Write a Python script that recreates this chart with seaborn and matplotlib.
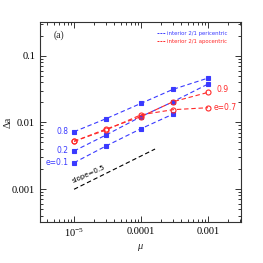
import matplotlib
matplotlib.use("Agg")
import matplotlib.pyplot as plt
import seaborn as sns
import numpy as np
import pandas as pd
from matplotlib.lines import Line2D
from matplotlib.ticker import LogLocator, NullFormatter, FixedLocator, FixedFormatter

mu = [1e-5, 3e-5, 1e-4, 3e-4, 1e-3]
peri_e08 = [0.00724, 0.01135, 0.0193, 0.0313, 0.0462]
peri_e02 = [0.00372, 0.00646, 0.0122, 0.0204, 0.0376]
peri_e01 = [0.00248, 0.00442, 0.00804, 0.0133]
apo_e09 = [0.00519, 0.00794, 0.0122, 0.0204, 0.0282]
apo_e07 = [0.0052, 0.00767, 0.0130, 0.0155, 0.0166]
slope_x = [1e-5, 1.62e-4]
slope_y = [0.00099, 0.00398]

xticks = [1e-5, 1e-4, 1e-3]
xtick_labels = [r"$10^{-5}$", "0.0001", "0.001"]
yticks = [0.001, 0.01, 0.1]
ytick_labels = ["0.001", "0.01", "0.1"]

sns.set_style("ticks")
plt.rcParams['font.family'] = ['DejaVu Sans']
plt.rcParams['mathtext.fontset'] = 'custom'
plt.rcParams['mathtext.rm'] = 'Liberation Serif'
plt.rcParams['mathtext.it'] = 'Liberation Serif:italic'
blue = "#3a3aff"
red = "#ff2a2a"

fig = plt.figure(figsize=(2.63, 2.63), dpi=100)
ax = fig.add_axes([0.152, 0.156, 0.764, 0.760])

def draw(xs, ys, color, marker, mfc, ms):
    sns.lineplot(x=xs, y=ys, ax=ax, color=color, linestyle=(0, (4, 2.5)), linewidth=0.8,
                 marker=marker, markersize=ms, markerfacecolor=mfc, markeredgecolor=color,
                 markeredgewidth=0.8, legend=False)

draw(mu, peri_e08, blue, 's', blue, 2.8)
draw(mu, peri_e02, blue, 's', blue, 2.8)
draw(mu[:4], peri_e01, blue, 's', blue, 2.8)
draw(mu, apo_e09, red, 'o', 'none', 3.6)
draw(mu, apo_e07, red, 'o', 'none', 3.6)
sns.lineplot(x=slope_x, y=slope_y, ax=ax, color="black", linestyle=(0, (4, 2.5)), linewidth=0.8, legend=False)

ax.set_xscale('log')
ax.set_yscale('log')
ax.set_xlim(3.1e-6, 3.1e-3)
ax.set_ylim(3.2e-4, 0.32)

serif = ['Liberation Serif', 'DejaVu Serif']
ax.xaxis.set_major_locator(FixedLocator(xticks))
ax.xaxis.set_major_formatter(FixedFormatter(xtick_labels))
ax.yaxis.set_major_locator(FixedLocator(yticks))
ax.yaxis.set_major_formatter(FixedFormatter(ytick_labels))
ax.xaxis.set_minor_locator(LogLocator(base=10, subs=np.arange(2, 10), numticks=20))
ax.yaxis.set_minor_locator(LogLocator(base=10, subs=np.arange(2, 10), numticks=20))
ax.xaxis.set_minor_formatter(NullFormatter())
ax.yaxis.set_minor_formatter(NullFormatter())
ax.tick_params(which='both', direction='in', top=True, right=True, width=0.7, colors='#333333')
ax.tick_params(which='major', length=4, labelsize=7.5, labelcolor='black')
ax.tick_params(which='minor', length=2)
for lab in ax.get_xticklabels() + ax.get_yticklabels():
    lab.set_family(serif)
for s in ax.spines.values():
    s.set_linewidth(0.8)
    s.set_color('#333333')

ax.set_xlabel(r"$\mu$", fontsize=7.5, labelpad=2)
ax.set_ylabel("Δa", fontsize=7.5, family=serif)
ax.yaxis.set_label_coords(-0.135, 0.5)

ax.text(0.07, 0.935, "(a)", transform=ax.transAxes, fontsize=7, family=serif, va='center')

lab_fs = 5.5
ax.text(8.4e-6, peri_e08[0], "0.8", color=blue, fontsize=lab_fs, ha='right', va='center')
ax.text(8.4e-6, peri_e02[0], "0.2", color=blue, fontsize=lab_fs, ha='right', va='center')
ax.text(8.4e-6, peri_e01[0], "e=0.1", color=blue, fontsize=lab_fs, ha='right', va='center')
ax.text(1.35e-3, 0.0307, "0.9", color=red, fontsize=lab_fs, ha='left', va='center')
ax.text(1.2e-3, 0.0170, "e=0.7", color=red, fontsize=lab_fs, ha='left', va='center')
ax.text(1.0e-5, 0.00118, "slope=0.5", color='black', fontsize=5, ha='left', va='bottom',
        rotation=24, rotation_mode='anchor')

handles = [Line2D([], [], color=blue, linestyle=(0, (2, 1)), linewidth=0.7),
           Line2D([], [], color=red, linestyle=(0, (2, 1)), linewidth=0.7)]
leg = ax.legend(handles, ["interior 2/1 pericentric", "interior 2/1 apocentric"],
                loc='upper right', bbox_to_anchor=(0.935, 0.955), frameon=False, fontsize=3.9,
                handlelength=1.5, handletextpad=0.4, labelspacing=0.45, borderaxespad=0.0,
                borderpad=0.0)
leg.get_texts()[0].set_color(blue)
leg.get_texts()[1].set_color(red)

fig.savefig("out.png", dpi=100)
